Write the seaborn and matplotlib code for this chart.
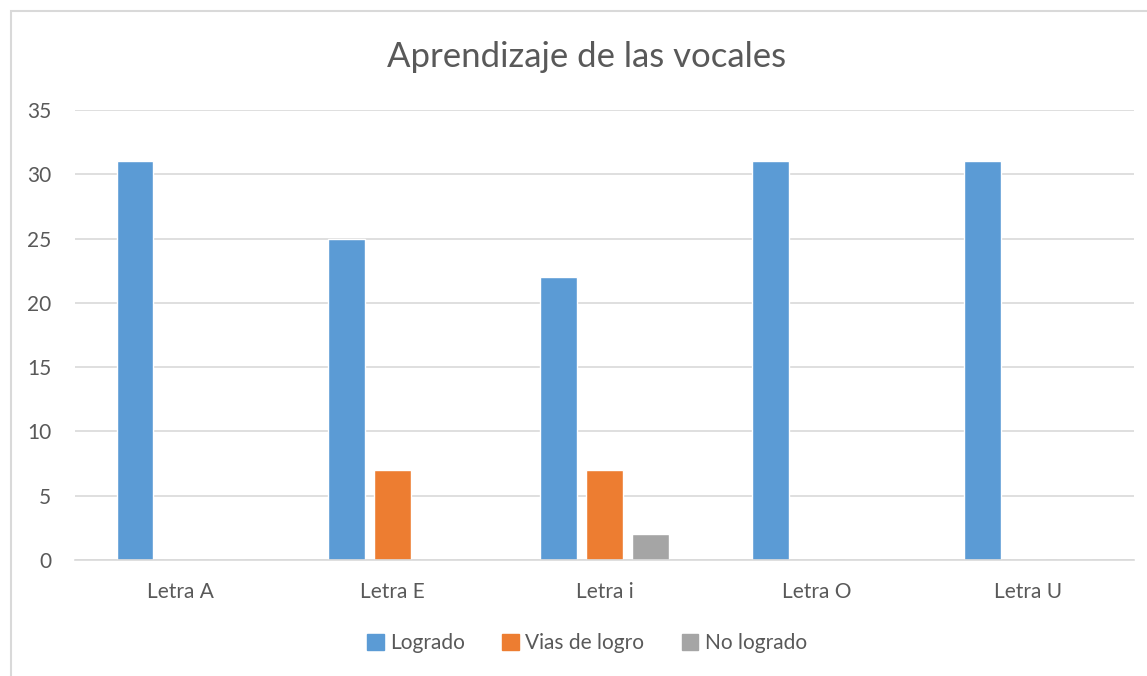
import numpy as np
import pandas as pd
from matplotlib import pyplot as plt
from matplotlib.patches import Rectangle
import seaborn as sns

sns.set_style('white')
plt.rcParams['font.family'] = ['Lato', 'DejaVu Sans']

categorias = ['Letra A', 'Letra E', 'Letra i', 'Letra O', 'Letra U']
logrado = [31, 25, 22, 31, 31]
vias_de_logro = [0, 7, 7, 0, 0]
no_logrado = [0, 0, 2, 0, 0]
series = ['Logrado', 'Vias de logro', 'No logrado']
colores = ['#5B9BD5', '#ED7D31', '#A5A5A5']

df = pd.DataFrame({
    'letra': categorias * 3,
    'serie': [series[0]] * 5 + [series[1]] * 5 + [series[2]] * 5,
    'valor': logrado + vias_de_logro + no_logrado,
})

fig = plt.figure(figsize=(11.47, 6.76), dpi=100)
ax = fig.add_axes([75 / 1147, 1 - 560 / 676, (1134 - 75) / 1147, 450 / 676])

sns.barplot(data=df, x='letra', y='valor', hue='serie', hue_order=series,
            palette=colores, width=0.65, gap=0.2, saturation=1,
            ax=ax, legend=False)

ax.set_ylim(0, 35)
ax.set_yticks(np.arange(0, 36, 5))
ax.set_xlim(-0.5, 4.5)
ax.set_xlabel('')
ax.set_ylabel('')
ax.grid(axis='y', color='#D9D9D9', linewidth=1.2)
ax.set_axisbelow(True)
for s in ['top', 'right', 'left']:
    ax.spines[s].set_visible(False)
ax.spines['bottom'].set_color('#D9D9D9')
ax.spines['bottom'].set_linewidth(1.2)
ax.tick_params(axis='both', length=0, labelsize=15, colors='#595959')
ax.tick_params(axis='y', pad=17)
ax.tick_params(axis='x', pad=16)

fig.text(587 / 1147, 1 - 57 / 676, 'Aprendizaje de las vocales', ha='center',
         va='center', fontsize=25, color='#595959')

handles = [Rectangle((0, 0), 1, 1, color=c) for c in colores]
fig.legend(handles, series, loc='center', bbox_to_anchor=(587 / 1147, 1 - 643 / 676),
           ncol=3, frameon=False, fontsize=15, handlelength=0.8, handleheight=0.8,
           handletextpad=0.3, columnspacing=1.8, labelcolor='#595959')

fig.patches.append(Rectangle((11 / 1147, -0.1), 1.2, 1 - 11 / 676 + 0.1,
                             transform=fig.transFigure, fill=False,
                             edgecolor='#D9D9D9', linewidth=1.5))

fig.savefig('out.png', dpi=100)
